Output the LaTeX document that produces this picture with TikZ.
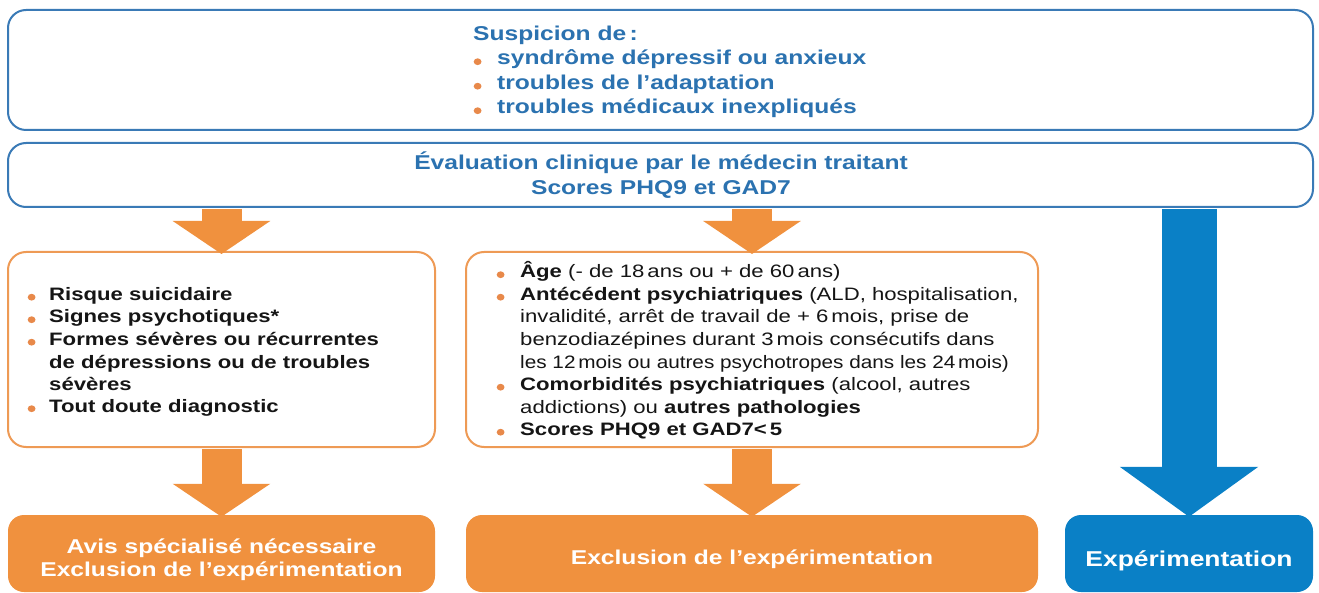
\documentclass[tikz,border=0pt]{standalone}
\usepackage{fontspec}
\setmainfont{Liberation Sans}[FakeStretch=1.23]
\usetikzlibrary{arrows.meta}
\definecolor{bline}{HTML}{3A7AB6}
\definecolor{btext}{HTML}{2B72B0}
\definecolor{bfill}{HTML}{0A80C6}
\definecolor{oline}{HTML}{EE9A55}
\definecolor{ofill}{HTML}{F0913E}
\definecolor{dotc}{HTML}{E8894A}
\definecolor{ink}{HTML}{151515}
\newcommand\obul[1]{\makebox[#1][l]{\tikz[baseline=0pt]\fill[dotc] (3.6pt,3.3pt) ellipse [x radius=3.9pt, y radius=3.4pt];}}
\begin{document}
\begin{tikzpicture}[x=1pt,y=-1pt,
  bluebox/.style={draw=bline, line width=2pt, rounded corners=18pt, fill=white, inner sep=0pt},
  orabox/.style={draw=oline, line width=2pt, rounded corners=18pt, fill=white, inner sep=0pt},
  outbox/.style={fill=ofill, rounded corners=16pt, inner sep=0pt},
  expbox/.style={fill=bfill, rounded corners=16pt, inner sep=0pt},
  toptxt/.style={anchor=base west, inner sep=0pt, text=btext, font=\bfseries\fontsize{20}{24}\selectfont},
  evtxt/.style={anchor=base, inner sep=0pt, text=btext, font=\bfseries\fontsize{20}{24}\selectfont},
  boxtxt/.style={anchor=base west, inner sep=0pt, text=ink, font=\fontsize{18}{22}\selectfont},
  boldtxt/.style={boxtxt, font=\bfseries\fontsize{18}{22}\selectfont},
  wtxt/.style={anchor=base, inner sep=0pt, text=white, font=\bfseries\fontsize{20}{24}\selectfont},
  oarrow/.style={draw=ofill, line width=40pt, -{Triangle[length=33pt,width=96pt]}, shorten <=1pt},
  barrow/.style={draw=bfill, line width=55pt, -{Triangle[length=50pt,width=136pt]}, shorten <=1pt}
]
\useasboundingbox (0,0) rectangle (1319,593);

% boxes
\node[bluebox, minimum width=1305pt, minimum height=120pt] (susp) at (660.5,70) {};
\node[bluebox, minimum width=1305pt, minimum height=64pt] (eval) at (660.5,175) {};
\node[orabox, minimum width=427pt, minimum height=195pt] (lbox) at (221.5,349.5) {};
\node[orabox, minimum width=572pt, minimum height=195pt] (mbox) at (752,349.5) {};
\node[outbox, minimum width=427pt, minimum height=77pt] (lout) at (221.5,553.5) {};
\node[outbox, minimum width=572pt, minimum height=77pt] (mout) at (752,553.5) {};
\node[expbox, minimum width=248pt, minimum height=77pt] (exp) at (1189,553.5) {};

% arrows
\draw[oarrow] (eval.south -| lbox.north) -- ([yshift=-3pt]lbox.north);
\draw[oarrow] (eval.south -| mbox.north) -- ([yshift=-3pt]mbox.north);
\draw[oarrow] (lbox.south) -- ([yshift=-2pt]lout.north);
\draw[oarrow] (mbox.south) -- ([yshift=-2pt]mout.north);
\draw[barrow] (eval.south -| exp.north) -- ([yshift=-2pt]exp.north);

% top text
\node[toptxt] (s0) at (473,40.5) {Suspicion de\,:};
\node[toptxt] (s1) at (473.5,65) {\obul{23.5pt}syndrôme dépressif ou anxieux};
\node[toptxt] (s2) at (473.5,89.5) {\obul{23.5pt}troubles de l’adaptation};
\node[toptxt] (s3) at (473.5,114) {\obul{23.5pt}troubles médicaux inexpliqués};

\node[evtxt] (e1) at (661,170) {Évaluation clinique par le médecin traitant};
\node[evtxt] (e2) at (661,195) {Scores PHQ9 et GAD7};

% left box text
\node[boldtxt] (l1) at (27.5,300.5) {\obul{21.5pt}Risque suicidaire};
\node[boldtxt] (l2) at (27.5,323) {\obul{21.5pt}Signes psychotiques*};
\node[boldtxt] (l3) at (27.5,345.5) {\obul{21.5pt}Formes sévères ou récurrentes};
\node[boldtxt] (l4) at (49,368) {de dépressions ou de troubles};
\node[boldtxt] (l5) at (49,390) {sévères};
\node[boldtxt] (l6) at (27.5,412) {\obul{21.5pt}Tout doute diagnostic};

% middle box text
\node[boxtxt] (m1) at (496.5,278) {\obul{23.5pt}\textbf{Âge} (- de 18\,ans ou + de 60\,ans)};
\node[boxtxt] (m2) at (496.5,300.5) {\obul{23.5pt}\textbf{Antécédent psychiatriques} (ALD, hospitalisation,};
\node[boxtxt] (m3) at (520,323) {invalidité, arrêt de travail de + 6\,mois, prise de};
\node[boxtxt] (m4) at (520,345.5) {benzodiazépines durant 3\,mois consécutifs dans};
\node[boxtxt] (m5) at (520,368) {\scalebox{0.937}[1]{les 12\,mois ou autres psychotropes dans les 24\,mois)}};
\node[boxtxt] (m6) at (496.5,390.5) {\obul{23.5pt}\textbf{Comorbidités psychiatriques} (alcool, autres};
\node[boxtxt] (m7) at (520,413) {addictions) ou \textbf{autres pathologies}};
\node[boxtxt] (m8) at (496.5,435.5) {\obul{23.5pt}\textbf{Scores PHQ9 et GAD7<\,5}};

% bottom texts
\node[wtxt] (o1) at (221.5,553) {Avis spécialisé nécessaire};
\node[wtxt] (o2) at (221.5,576) {Exclusion de l’expérimentation};
\node[wtxt] (o3) at (752,564) {Exclusion de l’expérimentation};
\node[wtxt, font=\bfseries\fontsize{21.5}{24}\selectfont] (x1) at (1189,566) {Expérimentation};
\end{tikzpicture}
\end{document}
